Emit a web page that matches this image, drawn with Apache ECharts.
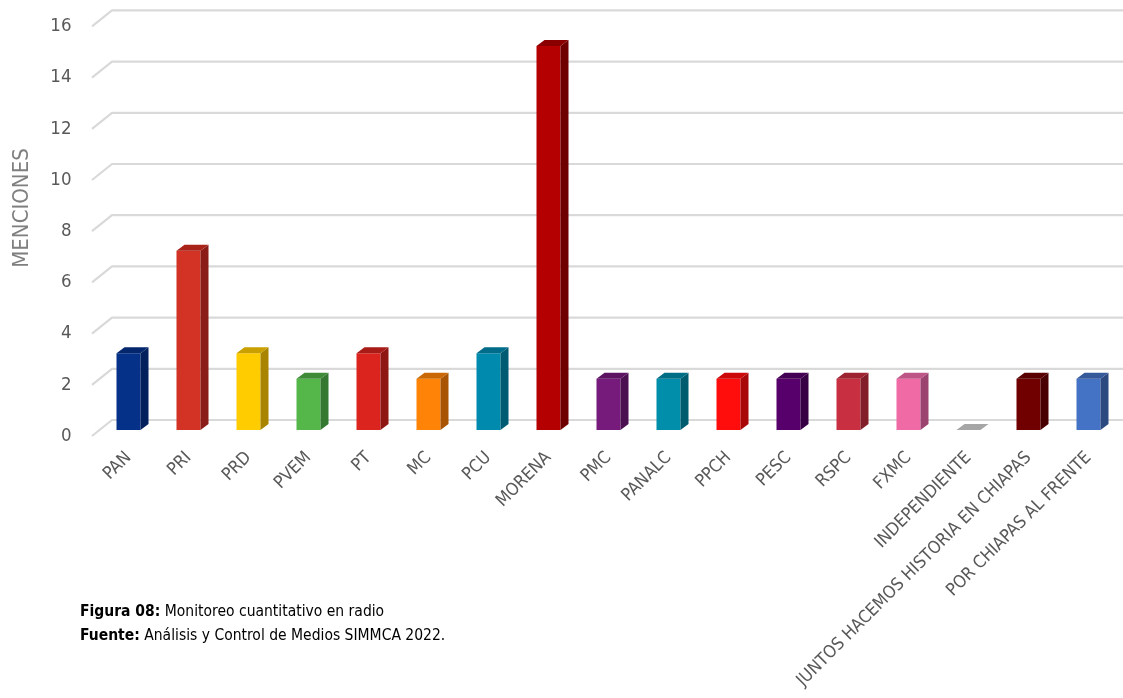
<!DOCTYPE html>
<html>
<head>
<meta charset="utf-8">
<script src="https://cdn.jsdelivr.net/npm/echarts@6/dist/echarts.min.js"></script>
<style>html,body{margin:0;padding:0;background:#fff;}#c{width:1123px;height:698px;}</style>
</head>
<body>
<div id="c"></div>
<script>
const categories = ['PAN','PRI','PRD','PVEM','PT','MC','PCU','MORENA','PMC','PANALC','PPCH','PESC','RSPC','FXMC','INDEPENDIENTE','JUNTOS HACEMOS HISTORIA EN CHIAPAS','POR CHIAPAS AL FRENTE'];
const values = [3,7,3,2,3,2,3,15,2,2,2,2,2,2,0,2,2];
const yTicks = [0,2,4,6,8,10,12,14,16];

const faceColors = ['#053189','#d33324','#ffcc00','#55b74a','#dc241f','#ff8306','#008aae','#b40000','#761b7c','#008eaa','#ff0d0d','#57006b','#c82f40','#f06aa6','#a6a6a6','#700000','#4472c4'];
const sideColors = ['#02205c','#8a1d17','#a88400','#357831','#8e1714','#a85404','#005a72','#6e0000','#4b1050','#005b6e','#a80808','#370044','#821e29','#9c4470','#a6a6a6','#490000','#2c4a80'];
const topColors  = ['#03266d','#a92318','#c9a000','#3f8c38','#a81b17','#c96805','#006c89','#8a0000','#5c1462','#006e85','#cc0a0a','#440054','#9e2432','#bd5586','#a6a6a6','#590000','#36599a'];

const FONT = "'Liberation Sans Narrow', 'DejaVu Sans Condensed', sans-serif";
const chart = echarts.init(document.getElementById('c'), null, {renderer:'canvas'});

const DX = 8, DY = -6;

chart.setOption({
  animation: false,
  backgroundColor: '#ffffff',
  grid: [
    {left: 98.5, top: 20.4, width: 1020, height: 409.6},
    {left: 98.5, top: 26.4, width: 1020, height: 409.6}
  ],
  xAxis: [
    {
      type: 'category', data: categories, gridIndex: 0,
      axisLine: {show: false}, axisTick: {show: false},
      axisLabel: {interval: 0, rotate: 45, margin: 25, color: '#595959', fontSize: 17.5, fontFamily: FONT}
    },
    {type: 'category', data: categories, gridIndex: 1, show: false}
  ],
  yAxis: [
    {
      type: 'value', min: 0, max: 16, interval: 2, gridIndex: 0,
      splitLine: {show: false}, axisLine: {show: false}, axisTick: {show: false},
      axisLabel: {show: false}
    },
    {
      type: 'value', min: 0, max: 16, interval: 2, gridIndex: 1,
      splitLine: {show: false}, axisLine: {show: false}, axisTick: {show: false},
      axisLabel: {color: '#595959', fontSize: 18.5, fontFamily: FONT, margin: 27}
    }
  ],
  series: [
    {
      type: 'custom', z: 1, silent: true, xAxisIndex: 0, yAxisIndex: 0,
      data: yTicks.map(v => [0, v]),
      renderItem: function (params, api) {
        const y = api.coord([0, api.value(1)])[1];
        const left = params.coordSys.x;
        return {
          type: 'polyline',
          shape: {points: [[left - 6.5, y + 6], [left + 13.5, y - 10], [1130, y - 10]]},
          style: {stroke: '#d9d9d9', lineWidth: 2.2, fill: null}
        };
      }
    },
    {
      type: 'custom', z: 2, silent: true, xAxisIndex: 0, yAxisIndex: 0,
      data: values.map((v, i) => [i, v]),
      renderItem: function (params, api) {
        const i = api.value(0);
        const base = api.coord([i, 0]);
        const top = api.coord([i, api.value(1)]);
        const bw = api.size([1, 0])[0] * 0.4;
        const x0 = base[0] - bw / 2, x1 = base[0] + bw / 2;
        const yb = base[1], yt = top[1];
        const children = [];
        if (api.value(1) > 0) {
          children.push({type: 'rect', shape: {x: x0, y: yt, width: bw, height: yb - yt}, style: {fill: faceColors[i]}});
          children.push({type: 'polygon', shape: {points: [[x1, yt], [x1 + DX, yt + DY], [x1 + DX, yb + DY], [x1, yb]]}, style: {fill: sideColors[i]}});
        }
        children.push({type: 'polygon', shape: {points: [[x0, yt], [x0 + DX, yt + DY], [x1 + DX, yt + DY], [x1, yt]]}, style: {fill: topColors[i]}});
        return {type: 'group', children: children};
      }
    }
  ],
  graphic: [
    {type: 'text', x: 22, y: 208, rotation: Math.PI / 2,
     style: {text: 'MENCIONES', fill: '#7f7f7f', fontSize: 22, fontFamily: FONT, align: 'center', verticalAlign: 'middle'}},
    {type: 'text', left: 80, top: 604,
     style: {text: '{b|Figura 08:} Monitoreo cuantitativo en radio', fill: '#000', fontSize: 15.5, fontFamily: FONT,
       rich: {b: {fontWeight: 'bold', fontSize: 15.5, fontFamily: FONT, fill: '#000'}}}},
    {type: 'text', left: 80, top: 628,
     style: {text: '{b|Fuente:} Análisis y Control de Medios SIMMCA 2022.', fill: '#000', fontSize: 15.5, fontFamily: FONT,
       rich: {b: {fontWeight: 'bold', fontSize: 15.5, fontFamily: FONT, fill: '#000'}}}}
  ]
});
</script>
</body>
</html>
